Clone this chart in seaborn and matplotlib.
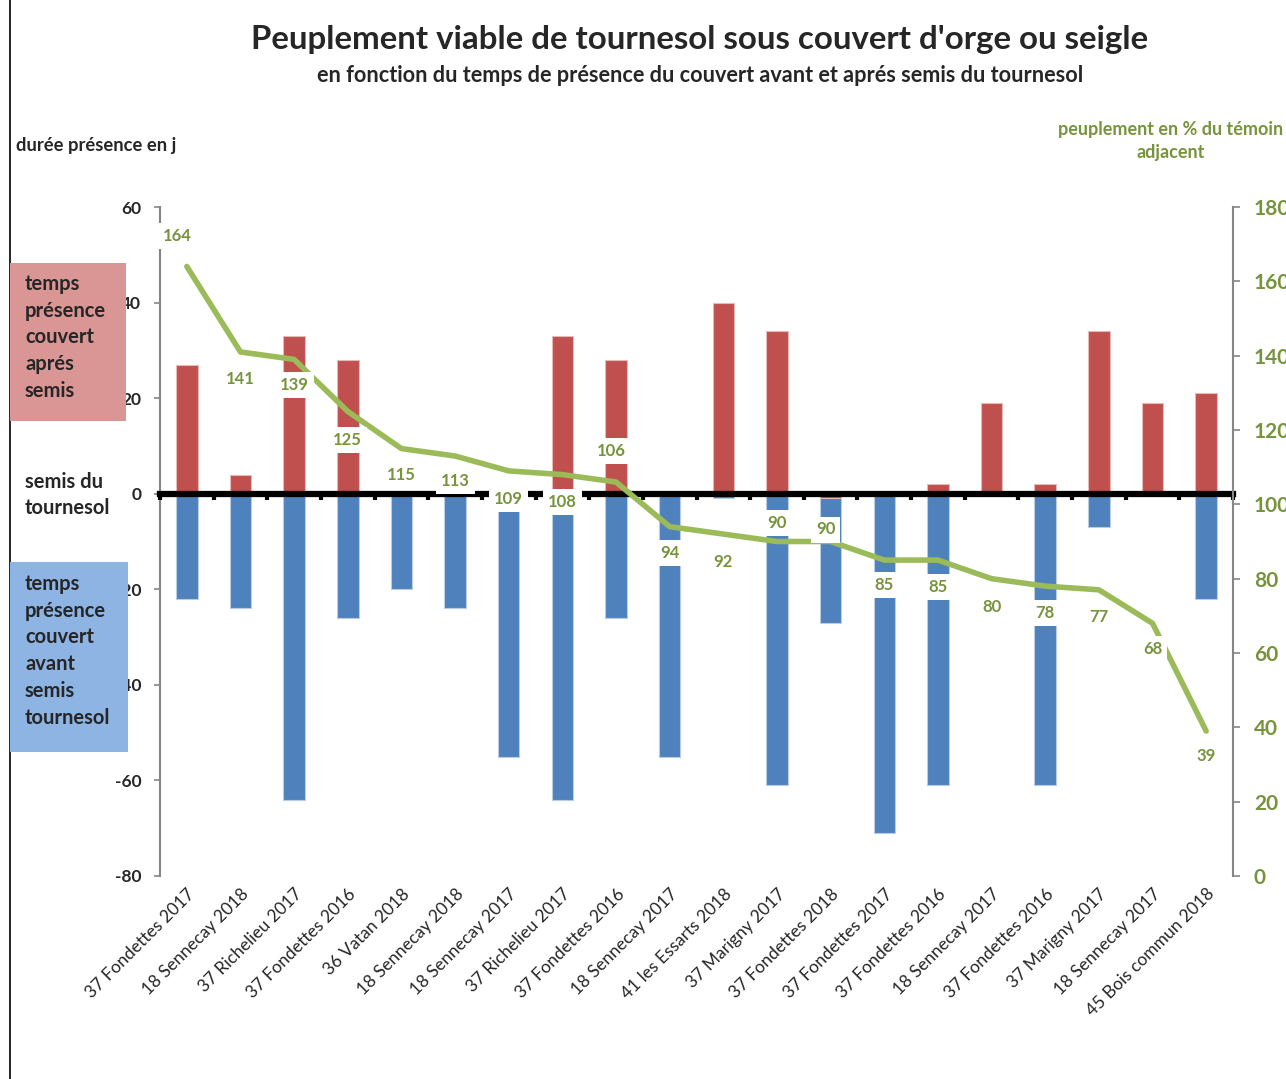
import numpy as np
import pandas as pd
import matplotlib
matplotlib.use("Agg")
import matplotlib.pyplot as plt
import seaborn as sns
from matplotlib.patches import Rectangle
from matplotlib.lines import Line2D

# ----- data -----
sites = ["37 Fondettes 2017", "18 Sennecay 2018", "37 Richelieu 2017", "37 Fondettes 2016",
         "36 Vatan 2018", "18 Sennecay 2018", "18 Sennecay 2017", "37 Richelieu 2017",
         "37 Fondettes 2016", "18 Sennecay 2017", "41 les Essarts 2018", "37 Marigny 2017",
         "37 Fondettes 2018", "37 Fondettes 2017", "37 Fondettes 2016", "18 Sennecay 2017",
         "37 Fondettes 2016", "37 Marigny 2017", "18 Sennecay 2017", "45 Bois commun 2018"]
jours_apres = [27, 4, 33, 28, 0, 0, 0, 33, 28, 0, 40, 34, -1, 0, 2, 19, 2, 34, 19, 21]
jours_avant = [-22, -24, -64, -26, -20, -24, -55, -64, -26, -55, -1, -61, -27, -71, -61, 0, -61, -7, 0, -22]
peuplement = [164, 141, 139, 125, 115, 113, 109, 108, 106, 94, 92, 90, 90, 85, 85, 80, 78, 77, 68, 39]

df = pd.DataFrame({
    "idx": range(len(sites)),
    "site": sites,
    "apres": jours_apres,
    "avant": jours_avant,
    "peuplement": peuplement,
})

# label placement (pixels, relative to the point; positive dy = below)
label_dx = [-10, 0, 0, 0, 0, 0, 0, 0, -5, 0, 0, 0, -5, 0, 0, 0, 0, 0, 0, 0]
label_dy = [-30, 27, 26, 29, 26, 25, 28, 27, -31, 26, 28, -19, -12, 25, 27, 28, 27, 27, 26, 25]

RED = "#C0504D"
BLUE = "#4F81BD"
GREEN = "#9BBB59"
GREEN_TXT = "#77933C"
GREY = "#868686"

sns.set_style("white")
plt.rcParams['font.family'] = ['Lato', 'DejaVu Sans']
plt.rcParams['axes.unicode_minus'] = False

W, H = 1286, 1079
fig = plt.figure(figsize=(W / 100, H / 100), dpi=100)
ax = fig.add_axes([160 / W, 1 - 876 / H, (1233 - 160) / W, (876 - 207) / H])

# bars
sns.barplot(data=df, x="idx", y="avant", color=BLUE, saturation=1, width=0.4,
            errorbar=None, edgecolor="#b9cce4", linewidth=0.8, ax=ax)
sns.barplot(data=df, x="idx", y="apres", color=RED, saturation=1, width=0.4,
            errorbar=None, edgecolor="#e6b9b8", linewidth=0.8, ax=ax)

ax.set_xlim(-0.5, len(sites) - 0.5)
ax.set_ylim(-80, 60)
ax.set_yticks(range(-80, 61, 20))
ax.set_xticks(range(len(sites)))
ax.set_xticklabels(sites, rotation=45, ha="right", rotation_mode="anchor", fontsize=12.5)
ax.tick_params(axis="x", length=0, pad=7)
ax.tick_params(axis="y", direction="out", length=4.5, width=1.2, color=GREY, labelsize=12.5, pad=9)
for t in ax.get_yticklabels():
    t.set_fontweight("bold")
ax.set_xlabel("")
ax.set_ylabel("")
for s in ["top", "right", "bottom"]:
    ax.spines[s].set_visible(False)
ax.spines["left"].set_color(GREY)
ax.spines["left"].set_linewidth(1.5)

# thick zero axis with boundary ticks
sec = ax.secondary_xaxis(0, transform=ax.transData)
sec.set_xticks(np.arange(-0.5, len(sites), 1))
sec.set_xticklabels([])
sec.tick_params(axis="x", direction="out", length=4, width=3, color="black")
sec.spines["bottom"].set_linewidth(4.5)
sec.spines["bottom"].set_color("black")
sec.set_zorder(3)

# line on right axis
ax2 = ax.twinx()
sns.lineplot(data=df, x="idx", y="peuplement", color=GREEN, linewidth=4, ax=ax2,
             solid_joinstyle="round", solid_capstyle="round")
ax2.set_ylim(0, 180)
ax2.set_yticks(range(0, 181, 20))
ax2.set_xlim(-0.5, len(sites) - 0.5)
ax2.set_ylabel("")
ax2.set_xlabel("")
ax2.tick_params(axis="y", direction="out", length=5, width=1.2, color=GREY,
                labelsize=15, labelcolor=GREEN_TXT, pad=10)
for t in ax2.get_yticklabels():
    t.set_fontweight("bold")
for s in ["top", "left", "bottom"]:
    ax2.spines[s].set_visible(False)
ax2.spines["right"].set_color(GREY)
ax2.spines["right"].set_linewidth(1.5)

for i, v in enumerate(peuplement):
    ax2.annotate(str(v), (i, v), xytext=(label_dx[i], -label_dy[i]), textcoords="offset pixels",
                 ha="center", va="center", color=GREEN_TXT, fontweight="bold", fontsize=12,
                 bbox=dict(boxstyle="square,pad=0.3", fc="white", ec="none"))

# titles and side texts
fig.text(700 / W, 1 - 40 / H, "Peuplement viable de tournesol sous couvert d'orge ou seigle",
         ha="center", va="center", fontsize=23.8, fontweight="bold")
fig.text(700 / W, 1 - 75 / H, "en fonction du temps de présence du couvert avant et aprés semis du tournesol",
         ha="center", va="center", fontsize=15.6, fontweight="bold")
fig.text(16 / W, 1 - 145 / H, "durée présence en j", ha="left", va="center",
         fontsize=13.2, fontweight="bold")
fig.text(1171 / W, 1 - 141 / H, "peuplement en % du témoin\nadjacent", ha="center", va="center",
         fontsize=13, fontweight="bold", color=GREEN_TXT, linespacing=1.45)

fig.add_artist(Rectangle((10 / W, 1 - 421 / H), 116 / W, 158 / H, transform=fig.transFigure,
                         fc="#DA9694", ec="none", zorder=10))
fig.text(25 / W, 1 - 274 / H, "temps\nprésence\ncouvert\naprés\nsemis", ha="left", va="top",
         fontsize=14.5, fontweight="bold", linespacing=1.42, zorder=11)
fig.add_artist(Rectangle((10 / W, 1 - 752 / H), 118 / W, 190 / H, transform=fig.transFigure,
                         fc="#8DB4E2", ec="none", zorder=10))
fig.text(25 / W, 1 - 574 / H, "temps\nprésence\ncouvert\navant\nsemis\ntournesol", ha="left", va="top",
         fontsize=14.5, fontweight="bold", linespacing=1.42, zorder=11)
fig.text(25 / W, 1 - 495 / H, "semis du\ntournesol", ha="left", va="center",
         fontsize=14.5, fontweight="bold", linespacing=1.42)

fig.add_artist(Line2D([10 / W, 10 / W], [0, 1], transform=fig.transFigure, color="black", lw=1.2))

fig.savefig("out.png", dpi=100)
